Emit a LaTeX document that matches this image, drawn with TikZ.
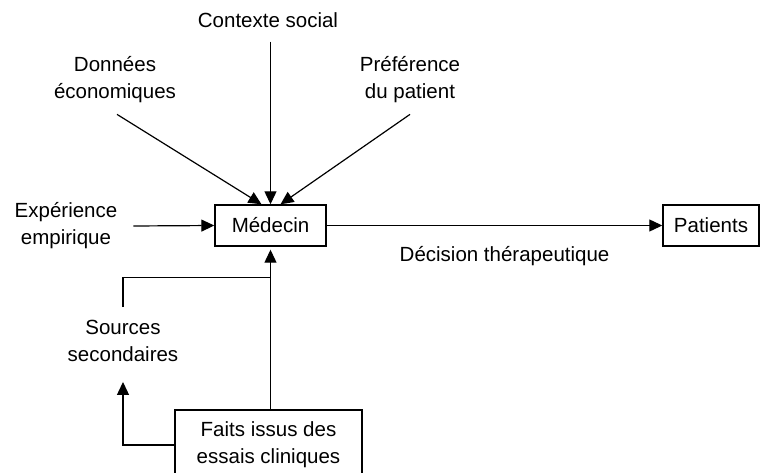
\documentclass[tikz,border=0pt]{standalone}
\usepackage{fontspec}
\setmainfont{Liberation Sans}
\usetikzlibrary{arrows.meta,positioning,calc}

\begin{document}
\begin{tikzpicture}[x=1pt, y=-1pt, every node/.style={font=\fontsize{20.5}{27}\selectfont},
  lbl/.style={align=center, inner sep=0pt},
  box/.style={rectangle, draw, line width=1.4pt, minimum height=41pt, inner sep=0pt, align=center},
  arr/.style={-{Triangle[length=13pt, width=12pt]}, line width=1.2pt}]
\clip (0,0) rectangle (761,473);
\node[box, minimum width=111pt] (med) at (270.5,225.5) {Médecin};
\node[box, minimum width=96pt] (pat) at (711,225.5) {Patients};
\node[box, minimum width=187pt, minimum height=70pt] (faits) at (268.5,445) {Faits issus des\\essais cliniques};
\node[lbl] (cs) at (268,20) {Contexte social};
\node[lbl] (don) at (115,80) {Données\\économiques};
\node[lbl] (pref) at (410,80) {Préférence\\du patient};
\node[lbl] (exp) at (66,226) {Expérience\\empirique};
\node[lbl] (src) at (123,341) {Sources\\secondaires};
\coordinate (j) at ($(med.south)+(0,31)$);
\draw[arr] ($(cs.south -| med.north)+(0,14)$) -- (med.north);
\draw[arr] ($(don.south)+(2,11)$) -- ($(med.north)+(-9,0)$);
\draw[arr] ($(pref.south)+(0,11)$) -- ($(med.north)+(10,0)$);
\draw[arr] ($(exp.east)+(16,0)$) -- (med.west);
\draw[arr] (med.east) -- node[lbl, below=20pt, pos=0.53] {Décision thérapeutique} (pat.west);
\draw[arr] (faits.north -| med.south) -- ($(med.south)+(0,3)$);
\draw[line width=1.2pt] ($(src.north)+(0,-13)$) |- (j);
\draw[arr] (faits.west) -| ($(src.south)+(0,20)$);
\end{tikzpicture}
\end{document}
